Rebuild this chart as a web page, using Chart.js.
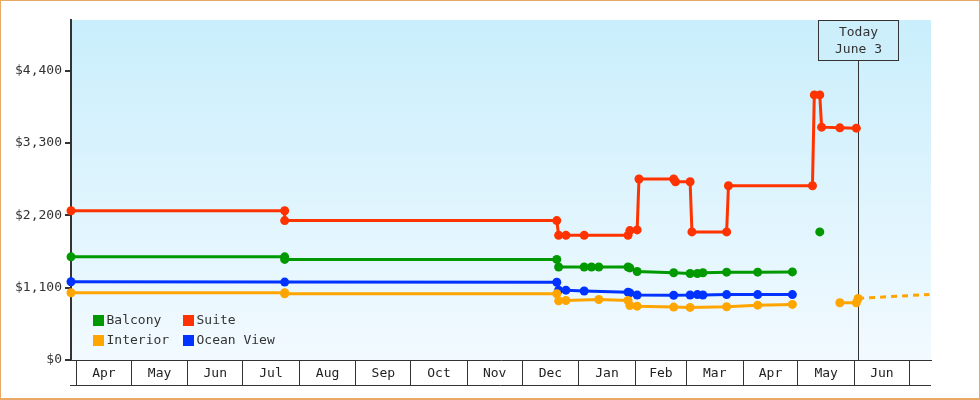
<!DOCTYPE html>
<html>
<head>
<meta charset="utf-8">
<title>Cabin price history</title>
<script src="https://cdn.jsdelivr.net/npm/chart.js@4.4.1/dist/chart.umd.min.js"></script>
<style>
  html, body { margin: 0; padding: 0; background: #fff; }
  #wrap { width: 980px; height: 400px; }
</style>
</head>
<body>
<div id="wrap"><canvas id="price-chart" width="980" height="400"></canvas></div>
<script>
// x axis works in days counted from Apr 1 2024
const START = Date.UTC(2024, 3, 1);
function day(s) {
  const [y, m, d] = s.split('-').map(Number);
  return (Date.UTC(y, m - 1, d) - START) / 86400000;
}

const seriesNames = ['Balcony', 'Suite', 'Interior', 'Ocean View'];
const seriesColors = ['#009900', '#ff3300', '#ffa500', '#0033ff'];

const monthLabels = ['Apr', 'May', 'Jun', 'Jul', 'Aug', 'Sep', 'Oct', 'Nov', 'Dec', 'Jan', 'Feb', 'Mar', 'Apr', 'May', 'Jun'];
const monthStarts = ['2024-04-01', '2024-05-01', '2024-06-01', '2024-07-01', '2024-08-01', '2024-09-01',
  '2024-10-01', '2024-11-01', '2024-12-01', '2025-01-01', '2025-02-01', '2025-03-01', '2025-04-01',
  '2025-05-01', '2025-06-01', '2025-07-01'];
const yTicks = [0, 1100, 2200, 3300, 4400];
const todayDate = '2025-06-03';
const todayText = ['Today', 'June 3'];

const balconyDates = ['2024-03-29', '2024-07-24', '2024-07-24', '2024-12-20', '2024-12-21', '2025-01-04', '2025-01-08',
  '2025-01-12', '2025-01-28', '2025-01-29', '2025-02-02', '2025-02-22', '2025-03-03', '2025-03-07', '2025-03-10',
  '2025-03-23', '2025-04-09', '2025-04-28', '2025-05-05', '2025-05-13'];
const balconyPrices = [1569, 1569, 1530, 1530, 1414, 1414, 1414, 1414, 1414, 1400, 1346, 1326, 1316, 1316, 1326,
  1336, 1336, 1340, null, 1948];

const suiteDates = ['2024-03-29', '2024-07-24', '2024-07-24', '2024-12-20', '2024-12-21', '2024-12-25', '2025-01-04',
  '2025-01-28', '2025-01-29', '2025-02-02', '2025-02-03', '2025-02-22', '2025-02-23', '2025-03-03', '2025-03-04',
  '2025-03-23', '2025-03-24', '2025-05-09', '2025-05-10', '2025-05-13', '2025-05-14', '2025-05-24', '2025-06-02'];
const suitePrices = [2270, 2270, 2120, 2120, 1896, 1896, 1896, 1896, 1968, 1978, 2752, 2752, 2710, 2710, 1948,
  1948, 2650, 2650, 4031, 4031, 3541, 3530, 3525];

const interiorDates = ['2024-03-29', '2024-07-24', '2024-07-24', '2024-12-20', '2024-12-21', '2024-12-25', '2025-01-12',
  '2025-01-28', '2025-01-29', '2025-02-02', '2025-02-22', '2025-03-03', '2025-03-23', '2025-04-09', '2025-04-28',
  '2025-05-10', '2025-05-24', '2025-06-02', '2025-06-03'];
const interiorPrices = [1022, 1022, 1007, 1007, 900, 905, 920, 905, 828, 819, 805, 800, 810, 834, 845,
  null, 871, 871, 936];

const oceanDates = ['2024-03-29', '2024-07-24', '2024-12-20', '2024-12-21', '2024-12-25', '2025-01-04', '2025-01-28',
  '2025-01-29', '2025-02-02', '2025-02-22', '2025-03-03', '2025-03-07', '2025-03-10', '2025-03-23', '2025-04-09',
  '2025-04-28'];
const oceanPrices = [1189, 1185, 1183, 1062, 1062, 1050, 1032, 1020, 989, 984, 989, 995, 989, 995, 995, 995];

// projected interior price after today (dashed)
const forecastDates = ['2025-06-03', '2025-07-12'];
const forecastPrices = [936, 997];

const X_MIN = -3, X_MAX = 467.9;
const Y_MAX = 5170;
const FONT = '"DejaVu Sans Mono", monospace';

function points(dates, prices) {
  return dates.map((d, i) => ({ x: day(d), y: prices[i] }));
}

function lineSet(i, dates, prices) {
  return {
    label: seriesNames[i],
    data: points(dates, prices),
    borderColor: seriesColors[i],
    backgroundColor: seriesColors[i],
    borderWidth: 3,
    pointStyle: 'circle',
    pointRadius: 4.5,
    pointBorderWidth: 0,
    pointBackgroundColor: seriesColors[i],
    tension: 0,
    spanGaps: false,
    clip: false
  };
}

// month boxes: boundaries get a grid line, the middles get the label
let monthTicks = [];
let monthTickLabels = {};
monthStarts.forEach((m, i) => {
  monthTicks.push(day(m));
  if (i < monthStarts.length - 1) {
    let mid = (day(m) + day(monthStarts[i + 1])) / 2;
    monthTicks.push(mid);
    monthTickLabels[mid] = monthLabels[i];
  }
});
const boundarySet = new Set(monthStarts.map(day));

const extras = {
  id: 'extras',
  beforeDraw(chart) {
    const { ctx, chartArea: a } = chart;
    const g = ctx.createLinearGradient(0, a.top, 0, a.bottom);
    g.addColorStop(0, '#c9eefc');
    g.addColorStop(1, '#f2faff');
    ctx.save();
    ctx.fillStyle = g;
    ctx.fillRect(a.left, a.top, a.right - a.left, a.bottom - a.top);
    ctx.restore();
  },
  beforeDatasetsDraw(chart) {
    const { ctx, chartArea: a } = chart;
    const x = Math.round(chart.scales.x.getPixelForValue(day(todayDate))) + 0.5;
    ctx.save();
    ctx.strokeStyle = '#333';
    ctx.lineWidth = 1;
    ctx.beginPath();
    ctx.moveTo(x, a.top + 40);
    ctx.lineTo(x, a.bottom);
    ctx.stroke();
    ctx.restore();
  },
  afterDraw(chart) {
    const { ctx, chartArea: a } = chart;
    ctx.save();
    // bottom edge of the month boxes
    ctx.strokeStyle = '#333';
    ctx.lineWidth = 1;
    ctx.beginPath();
    ctx.moveTo(a.left - 1, a.bottom + 25.5);
    ctx.lineTo(a.right, a.bottom + 25.5);
    ctx.stroke();

    // today box
    const x = Math.round(chart.scales.x.getPixelForValue(day(todayDate))) + 0.5;
    ctx.fillStyle = '#cdeffc';
    ctx.fillRect(x - 40, a.top + 0.5, 80, 40);
    ctx.strokeRect(x - 40, a.top + 0.5, 80, 40);
    ctx.fillStyle = '#333';
    ctx.font = '13px ' + FONT;
    ctx.textAlign = 'center';
    ctx.textBaseline = 'middle';
    ctx.fillText(todayText[0], x, a.top + 12.5);
    ctx.fillText(todayText[1], x, a.top + 29.5);

    // legend, two rows of two
    const rows = [[0, 1], [2, 3]];
    ctx.textAlign = 'left';
    rows.forEach((row, r) => {
      row.forEach((s, c) => {
        const lx = a.left + 22 + c * 90;
        const ly = a.top + 300.5 + r * 20;
        ctx.fillStyle = seriesColors[s];
        ctx.fillRect(lx, ly - 5.5, 11, 11);
        ctx.fillStyle = '#333';
        ctx.fillText(seriesNames[s], lx + 13.5, ly);
      });
    });

    // frame
    ctx.strokeStyle = '#e8a966';
    ctx.lineWidth = 1;
    ctx.strokeRect(0.5, 0.5, chart.width - 1, chart.height - 1.5);
    ctx.fillStyle = '#e8a966';
    ctx.fillRect(0, chart.height - 2, chart.width, 2);
    ctx.restore();
  }
};

Chart.defaults.font.family = FONT;
Chart.defaults.font.size = 13;
Chart.defaults.color = '#333';

const chart = new Chart(document.getElementById('price-chart'), {
  type: 'line',
  data: {
    datasets: [
      lineSet(0, balconyDates, balconyPrices),
      lineSet(1, suiteDates, suitePrices),
      lineSet(2, interiorDates, interiorPrices),
      lineSet(3, oceanDates, oceanPrices),
      {
        label: 'Interior forecast',
        data: points(forecastDates, forecastPrices),
        borderColor: seriesColors[2],
        borderWidth: 3,
        borderDash: [6, 5],
        pointRadius: 0,
        tension: 0
      }
    ]
  },
  options: {
    responsive: false,
    animation: false,
    devicePixelRatio: 1,
    layout: { padding: { left: 0, right: 49, top: 20, bottom: 0 } },
    plugins: { legend: { display: false }, tooltip: { enabled: false } },
    scales: {
      x: {
        type: 'linear',
        min: X_MIN,
        max: X_MAX,
        afterBuildTicks: scale => { scale.ticks = monthTicks.map(v => ({ value: v })); },
        afterFit: scale => { scale.height = 40; },
        border: { display: true, color: '#333', width: 1 },
        grid: {
          drawOnChartArea: false,
          tickLength: 25,
          lineWidth: 1,
          color: ctx => (ctx.tick && boundarySet.has(ctx.tick.value)) ? '#333' : 'rgba(0,0,0,0)'
        },
        ticks: {
          autoSkip: false,
          maxRotation: 0,
          padding: -19,
          color: '#222',
          callback: v => monthTickLabels[v] || ''
        }
      },
      y: {
        min: 0,
        max: Y_MAX,
        afterBuildTicks: scale => { scale.ticks = yTicks.map(v => ({ value: v })); },
        afterFit: scale => { scale.width = 71; },
        border: { display: true, color: '#333', width: 2 },
        grid: { drawOnChartArea: false, tickLength: 6, lineWidth: 2, color: '#333' },
        ticks: {
          padding: 3,
          color: '#333',
          callback: v => '$' + v.toLocaleString('en-US')
        }
      }
    }
  },
  plugins: [extras]
});
</script>
</body>
</html>
